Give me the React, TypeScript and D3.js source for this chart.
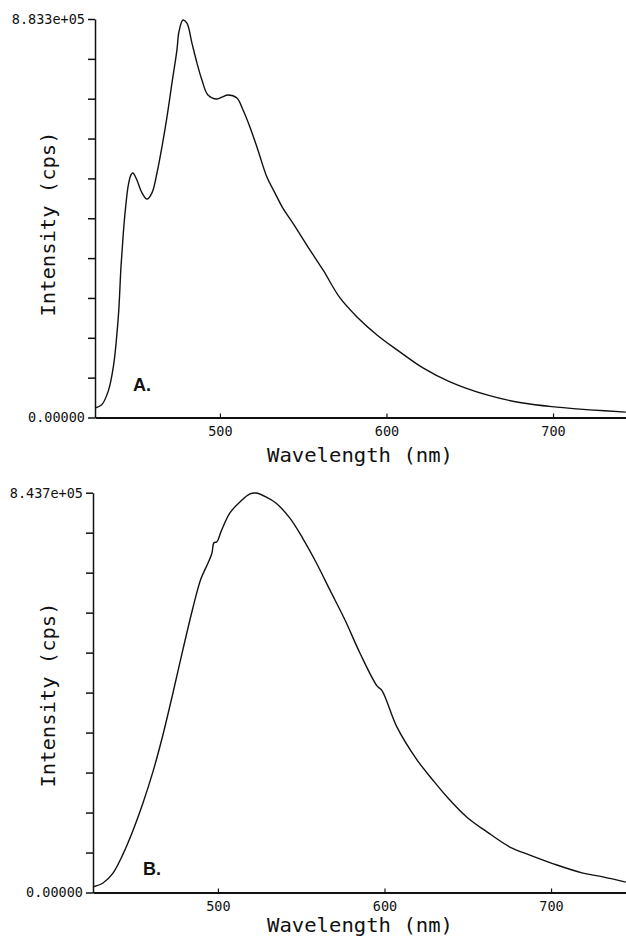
import React from 'react';
import {
    axisBottom,
    axisLeft,
    curveCatmullRom,
    line,
    range,
    scaleLinear,
    select
} from 'd3';

// Spectrum A (wavelength in nm, intensity in 1e5 cps)
const wavelengthA = [
    425.0, 429.0, 433.0, 436.0, 439.0, 440.6, 442.0, 443.4, 445.0, 446.6,
    447.8, 450.2, 453.2, 456.2, 459.2, 462.2, 465.2, 468.2, 471.2, 474.2,
    475.4, 477.8, 480.2, 483.2, 486.2, 489.2, 492.8, 498.2, 501.2, 504.8,
    510.2, 513.8, 518.0, 522.8, 528.2, 533.0, 537.8, 543.8, 554.1, 561.9,
    572.1, 582.3, 594.3, 606.3, 621.9, 638.1, 660.3, 681.9, 702.3, 722.1,
    743.7
];
const intensityA = [
    0.21, 0.28, 0.59, 1.12, 2.23, 3.34, 4.09, 4.67, 5.15, 5.38,
    5.42, 5.26, 4.98, 4.84, 4.98, 5.42, 6.00, 6.66, 7.41, 8.15,
    8.55, 8.81, 8.74, 8.30, 7.86, 7.48, 7.15, 7.06, 7.10, 7.15,
    7.08, 6.82, 6.44, 5.93, 5.33, 4.98, 4.64, 4.31, 3.71, 3.27,
    2.65, 2.23, 1.83, 1.50, 1.10, 0.79, 0.50, 0.32, 0.23, 0.17,
    0.12
];

// Spectrum B
const wavelengthB = [
    425.0, 431.0, 437.0, 443.0, 449.0, 455.0, 461.0, 467.0, 473.0, 479.0,
    485.0, 489.8, 494.0, 496.4, 497.6, 499.4, 501.8, 507.2, 513.2, 519.2,
    522.8, 528.8, 534.8, 543.2, 551.0, 558.9, 567.3, 576.3, 585.3, 595.5,
    598.5, 607.5, 619.5, 629.1, 637.5, 649.5, 661.5, 675.3, 687.3, 703.5,
    719.1, 731.1, 744.9
];
const intensityB = [
    0.12, 0.20, 0.41, 0.81, 1.31, 1.89, 2.55, 3.33, 4.21, 5.13,
    6.01, 6.62, 6.95, 7.16, 7.38, 7.40, 7.61, 8.01, 8.24, 8.41,
    8.43, 8.35, 8.22, 7.90, 7.47, 6.97, 6.38, 5.75, 5.05, 4.36,
    4.26, 3.49, 2.80, 2.37, 2.02, 1.59, 1.28, 0.96, 0.79, 0.58,
    0.41, 0.33, 0.22
];

const xDomain = [425, 745];
const xTicks = [500, 600, 700];
const yMaxes = [8.833, 8.437];
const yTopLabels = ['8.833e+05', '8.437e+05'];
const yBottomLabel = '0.00000';
const panelLetters = ['A.', 'B.'];
const xTitle = 'Wavelength (nm)';
const yTitle = 'Intensity (cps)';

const MONO = '"DejaVu Sans Mono", "Liberation Mono", monospace';

type Layout = {
    left: number;
    top: number;
    bottom: number;
    letterX: number;
    letterY: number;
    yTitleY: number;
    xTitleY: number;
};

const layouts: Layout[] = [
    { left: 95, top: 19, bottom: 417.5, letterX: 133, letterY: 391, yTitleY: 224, xTitleY: 462 },
    { left: 93, top: 492.7, bottom: 892.5, letterX: 143, letterY: 875, yTitleY: 695, xTitleY: 932 }
];

const WIDTH = 626;
const HEIGHT = 941;

const App = () => {
    const svgRef = React.useRef<SVGSVGElement | null>(null);

    React.useEffect(() => {
        const svgEl = select(svgRef.current);
        svgEl.selectAll('*').remove();

        const series = [
            { wl: wavelengthA, it: intensityA },
            { wl: wavelengthB, it: intensityB }
        ];

        series.forEach((s, p) => {
            const lay = layouts[p];
            const gEl = svgEl.append('g').attr('class', `panel-${p}`);

            const x = scaleLinear()
                .domain(xDomain)
                .range([lay.left, lay.left + 533]);
            const y = scaleLinear()
                .domain([0, yMaxes[p]])
                .range([lay.bottom, lay.top]);

            // Y Axis
            const yTicks = range(0, 11).map((i) => (yMaxes[p] * i) / 10);
            const yAxis = axisLeft(y)
                .tickValues(yTicks)
                .tickSizeInner(7)
                .tickSizeOuter(0)
                .tickPadding(3)
                .tickFormat((d, i) => (i === 0 ? yBottomLabel : i === 10 ? yTopLabels[p] : ''));
            const yAxisGroup = gEl
                .append('g')
                .attr('transform', `translate(${lay.left},0)`)
                .call(yAxis);
            yAxisGroup
                .selectAll('text')
                .attr('font-family', MONO)
                .attr('font-size', 13.5)
                .attr('fill', '#111');
            yAxisGroup
                .selectAll('line,path')
                .attr('stroke', '#111')
                .attr('stroke-width', 1.5);

            // X Axis
            const xAxis = axisBottom(x)
                .tickValues(xTicks)
                .tickSizeInner(-4)
                .tickSizeOuter(0)
                .tickFormat((d) => String(d));
            const xAxisGroup = gEl
                .append('g')
                .attr('transform', `translate(0,${lay.bottom})`)
                .call(xAxis);
            xAxisGroup
                .selectAll('text')
                .attr('y', 18.5)
                .attr('dy', 0)
                .attr('font-family', MONO)
                .attr('font-size', 13.5)
                .attr('fill', '#111');
            xAxisGroup
                .selectAll('line')
                .attr('stroke', '#111')
                .attr('stroke-width', 1.2);
            xAxisGroup
                .select('path')
                .attr('stroke', '#111')
                .attr('stroke-width', 2);

            // Titles
            gEl.append('text')
                .attr('x', 360)
                .attr('y', lay.xTitleY)
                .attr('text-anchor', 'middle')
                .attr('font-family', MONO)
                .attr('font-size', 19)
                .attr('textLength', 186)
                .attr('lengthAdjust', 'spacingAndGlyphs')
                .attr('fill', '#111')
                .text(xTitle);

            gEl.append('text')
                .attr('transform', `translate(55,${lay.yTitleY}) rotate(-90)`)
                .attr('text-anchor', 'middle')
                .attr('font-family', MONO)
                .attr('font-size', 19.5)
                .attr('textLength', 185)
                .attr('lengthAdjust', 'spacingAndGlyphs')
                .attr('fill', '#111')
                .text(yTitle);

            // Panel letter
            gEl.append('text')
                .attr('x', lay.letterX)
                .attr('y', lay.letterY)
                .attr('font-family', '"Liberation Sans", Arial, sans-serif')
                .attr('font-weight', 'bold')
                .attr('font-size', 18)
                .attr('fill', '#111')
                .text(panelLetters[p]);

            // Spectrum
            const pts = s.wl.map((w, i) => ({ x: w, y: s.it[i] }));
            gEl.append('path')
                .datum(pts)
                .attr('fill', 'none')
                .attr('stroke', '#111')
                .attr('stroke-width', 1.4)
                .attr('stroke-linejoin', 'round')
                .attr('d', line<{ x: number; y: number }>()
                    .curve(curveCatmullRom.alpha(0.5))
                    .x((d) => x(d.x))
                    .y((d) => y(d.y)));
        });
    }, []);

    return (
        <div>
            <svg
                ref={svgRef}
                width={WIDTH}
                height={HEIGHT}
                style={{ position: 'absolute', left: 0, top: 0, background: '#fff' }}
            />
        </div>
    );
};

export default App;
